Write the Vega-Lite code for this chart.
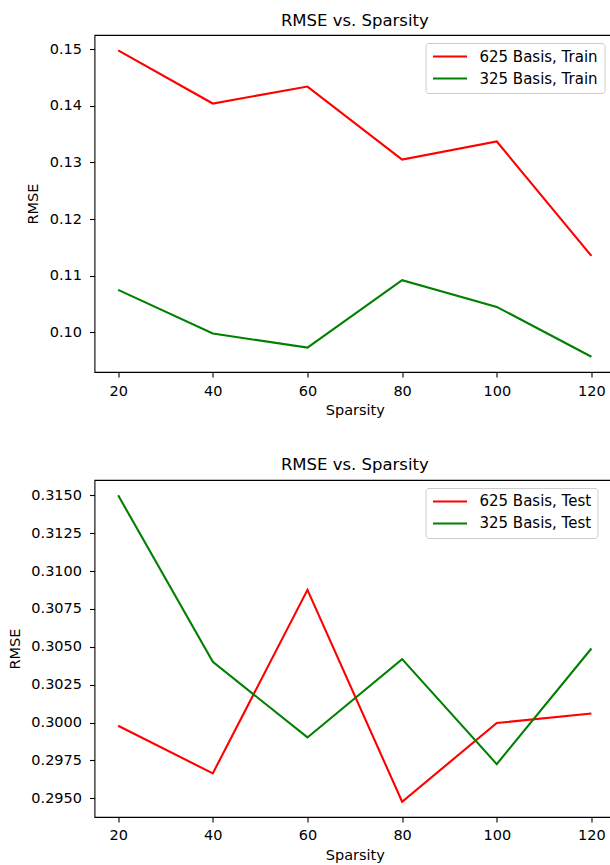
{
  "$schema": "https://vega.github.io/schema/vega-lite/v6.json",
  "padding": {"left": 6.5, "top": 11, "right": 0, "bottom": 0},
  "spacing": 108,
  "bounds": "flush",
  "datasets": {
    "train": [
      {"sparsity": 20, "rmse": 0.1498, "series": "625 Basis, Train"},
      {"sparsity": 40, "rmse": 0.1404, "series": "625 Basis, Train"},
      {"sparsity": 60, "rmse": 0.1434, "series": "625 Basis, Train"},
      {"sparsity": 80, "rmse": 0.1305, "series": "625 Basis, Train"},
      {"sparsity": 100, "rmse": 0.1337, "series": "625 Basis, Train"},
      {"sparsity": 120, "rmse": 0.1135, "series": "625 Basis, Train"},
      {"sparsity": 20, "rmse": 0.1075, "series": "325 Basis, Train"},
      {"sparsity": 40, "rmse": 0.0998, "series": "325 Basis, Train"},
      {"sparsity": 60, "rmse": 0.0973, "series": "325 Basis, Train"},
      {"sparsity": 80, "rmse": 0.1092, "series": "325 Basis, Train"},
      {"sparsity": 100, "rmse": 0.1045, "series": "325 Basis, Train"},
      {"sparsity": 120, "rmse": 0.0957, "series": "325 Basis, Train"}
    ],
    "test": [
      {"sparsity": 20, "rmse": 0.29979, "series": "625 Basis, Test"},
      {"sparsity": 40, "rmse": 0.29665, "series": "625 Basis, Test"},
      {"sparsity": 60, "rmse": 0.30876, "series": "625 Basis, Test"},
      {"sparsity": 80, "rmse": 0.29478, "series": "625 Basis, Test"},
      {"sparsity": 100, "rmse": 0.29997, "series": "625 Basis, Test"},
      {"sparsity": 120, "rmse": 0.3006, "series": "625 Basis, Test"},
      {"sparsity": 20, "rmse": 0.315, "series": "325 Basis, Test"},
      {"sparsity": 40, "rmse": 0.30401, "series": "325 Basis, Test"},
      {"sparsity": 60, "rmse": 0.29902, "series": "325 Basis, Test"},
      {"sparsity": 80, "rmse": 0.30419, "series": "325 Basis, Test"},
      {"sparsity": 100, "rmse": 0.29726, "series": "325 Basis, Test"},
      {"sparsity": 120, "rmse": 0.30489, "series": "325 Basis, Test"}
    ]
  },
  "config": {
    "font": "DejaVu Sans",
    "view": {"stroke": "#000", "strokeWidth": 1.1},
    "axis": {"domain": false, "grid": false, "tickColor": "#000", "tickWidth": 1.1, "tickSize": 5, "labelFontSize": 14.5, "labelColor": "#000", "titleFontSize": 14.5, "titleFontWeight": "normal", "titleColor": "#000", "labelPadding": 7, "titlePadding": 6},
    "axisY": {"labelPadding": 8},
    "title": {"fontSize": 16.5, "fontWeight": "normal", "color": "#000", "baseline": "alphabetic", "offset": 6},
    "legend": {"orient": "none", "legendX": 331, "legendY": 8, "title": null, "symbolType": "M-1,0H4.67", "symbolSize": 144, "symbolStrokeWidth": 2.1, "labelFontSize": 15, "labelColor": "#000", "labelOffset": 33, "fillColor": "#fff", "strokeColor": "#ccc", "cornerRadius": 3, "padding": 6, "rowPadding": 6}
  },
  "resolve": {"scale": {"color": "independent"}},
  "vconcat": [
    {
      "width": 520.6,
      "height": 337,
      "title": "RMSE vs. Sparsity",
      "data": {"name": "train"},
      "mark": {"type": "line", "strokeWidth": 2.1},
      "encoding": {
        "x": {"field": "sparsity", "type": "quantitative", "scale": {"domain": [15, 125], "nice": false, "zero": false}, "axis": {"values": [20, 40, 60, 80, 100, 120], "format": "d", "title": "Sparsity"}},
        "y": {"field": "rmse", "type": "quantitative", "scale": {"domain": [0.093, 0.1525], "nice": false, "zero": false}, "axis": {"values": [0.1, 0.11, 0.12, 0.13, 0.14, 0.15], "format": ".2f", "title": "RMSE", "titleX": -57, "titleBaseline": "alphabetic"}},
        "color": {"field": "series", "type": "nominal", "scale": {"domain": ["625 Basis, Train", "325 Basis, Train"], "range": ["#ff0000", "#008000"]}}
      }
    },
    {
      "width": 520.6,
      "height": 337,
      "title": "RMSE vs. Sparsity",
      "data": {"name": "test"},
      "mark": {"type": "line", "strokeWidth": 2.1},
      "encoding": {
        "x": {"field": "sparsity", "type": "quantitative", "scale": {"domain": [15, 125], "nice": false, "zero": false}, "axis": {"values": [20, 40, 60, 80, 100, 120], "format": "d", "title": "Sparsity"}},
        "y": {"field": "rmse", "type": "quantitative", "scale": {"domain": [0.29377, 0.31601], "nice": false, "zero": false}, "axis": {"values": [0.295, 0.2975, 0.3, 0.3025, 0.305, 0.3075, 0.31, 0.3125, 0.315], "format": ".4f", "title": "RMSE", "titleX": -75, "titleBaseline": "alphabetic"}},
        "color": {"field": "series", "type": "nominal", "scale": {"domain": ["625 Basis, Test", "325 Basis, Test"], "range": ["#ff0000", "#008000"]}}
      }
    }
  ]
}
